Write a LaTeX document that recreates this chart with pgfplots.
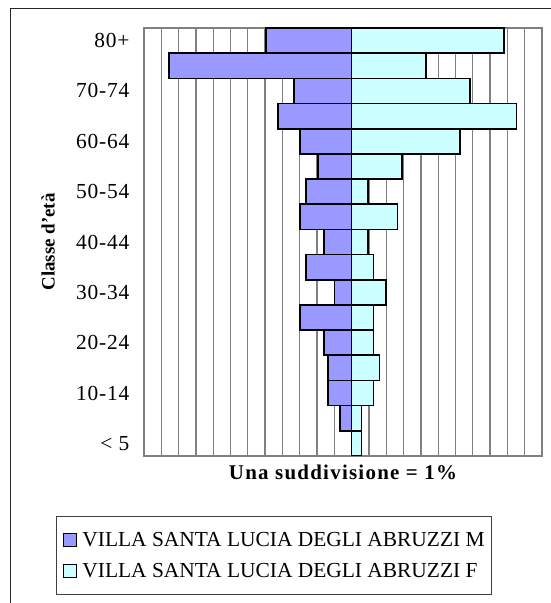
\documentclass[border=0pt]{standalone}
\usepackage{fontspec}
\setmainfont{Liberation Serif}
\usepackage{pgfplots}
\usepackage{pgfplotstable}
\pgfplotsset{compat=1.18}
\definecolor{mcol}{HTML}{9999FF}
\definecolor{fcol}{HTML}{CCFFFF}
\definecolor{gridgray}{HTML}{808080}

\pgfplotstableread{
age M F
0 0 0.58
1 -0.68 0.58
2 -1.37 1.27
3 -1.37 1.62
4 -1.60 1.27
5 -2.99 1.27
6 -1.00 1.99
7 -2.64 1.27
8 -1.60 0.93
9 -2.97 2.66
10 -2.64 0.93
11 -1.93 2.92
12 -2.99 6.25
13 -4.27 9.52
14 -3.34 6.85
15 -10.54 4.29
16 -4.94 8.82
}\pyramid

\begin{document}
\begin{tikzpicture}
\useasboundingbox (0bp,0bp) rectangle (551bp,603bp);
\draw[line width=1.4bp, black!85] (10.5bp,-5bp) -- (10.5bp,594.5bp) -- (560bp,594.5bp);
\begin{axis}[
  at={(144bp,147bp)}, anchor=south west,
  scale only axis, width=398bp, height=428bp,
  xmin=-12, xmax=11, ymin=-0.5, ymax=16.5,
  xtick={-12,...,11}, xticklabels={},
  xmajorgrids,
  major grid style={gridgray, line width=1.3bp},
  ytick={0,2,...,16},
  yticklabels={{< 5},10-14,20-24,30-34,40-44,50-54,60-64,70-74,80+},
  major tick length=0pt,
  axis line style={gridgray, line width=1.3bp},
  yticklabel style={font=\fontsize{21.5}{25}\selectfont\addfontfeatures{LetterSpace=4}, xshift=-11bp},
  ylabel={Classe d'età},
  ylabel style={font=\bfseries\fontsize{19}{23}\selectfont, at={(axis description cs:-0.241,0.5)}, anchor=center},
  xlabel={Una suddivisione = 1\%},
  xlabel style={font=\bfseries\fontsize{21}{25}\selectfont\addfontfeatures{LetterSpace=6}, at={(axis description cs:0.5,-0.0374)}, anchor=center},
  xbar, bar width=1, bar shift=0pt,
  legend image code/.code={\draw[#1, line width=1.2bp] (2bp,-6.5bp) rectangle (15bp,6.5bp); \path[draw=none, fill=none] (0bp,0bp) -- (19bp,0bp);},
  legend style={at={(axis description cs:-0.221,-0.140)}, anchor=north west,
    draw=black!75, line width=0.8bp, font=\fontsize{21.5}{25}\selectfont,
    inner xsep=5bp, inner ysep=14bp, row sep=11bp, cells={anchor=west}},
]
\addplot[draw=black, fill=mcol, line width=1.6bp] table[x=M, y=age] {\pyramid};
\addplot[draw=black, fill=fcol, line width=1.6bp] table[x=F, y=age] {\pyramid};
\legend{VILLA SANTA LUCIA DEGLI ABRUZZI M\hspace{20bp}, VILLA SANTA LUCIA DEGLI ABRUZZI F\hspace{20bp}}
\end{axis}
\end{tikzpicture}
\end{document}
